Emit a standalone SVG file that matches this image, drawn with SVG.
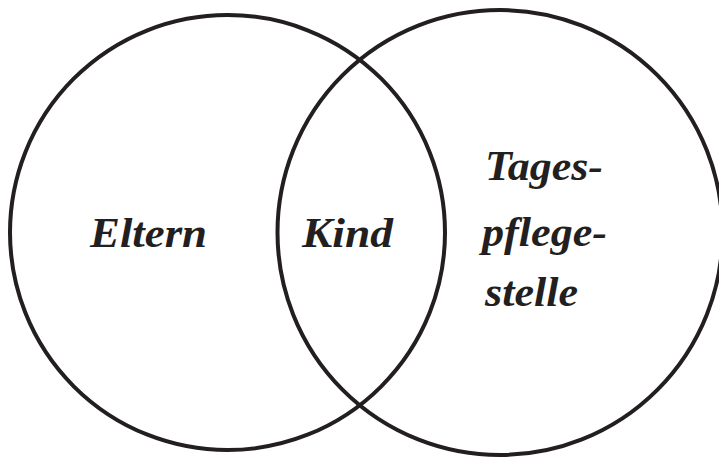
<svg xmlns="http://www.w3.org/2000/svg" width="719" height="458" viewBox="0 0 719 458">
<style>
.c{fill:none;stroke:#231f20;stroke-width:4}
.t{font-family:"Liberation Serif","Times New Roman",serif;font-weight:bold;font-style:italic;font-size:42px;fill:#231f20}
</style>
<rect width="719" height="458" fill="#fff"/>
<g id="eltern"><circle class="c" cx="227.5" cy="232.5" r="217.5"/><text class="t" x="90" y="247" textLength="117" lengthAdjust="spacingAndGlyphs">Eltern</text></g>
<g id="tagespflegestelle"><circle class="c" cx="500" cy="232.5" r="222.5"/><text class="t" x="485" y="180" textLength="118" lengthAdjust="spacingAndGlyphs">Tages-</text><text class="t" x="482" y="246" textLength="125" lengthAdjust="spacingAndGlyphs">pflege-</text><text class="t" x="485" y="306" textLength="93" lengthAdjust="spacingAndGlyphs">stelle</text></g>
<g id="kind"><text class="t" x="302" y="247" textLength="91" lengthAdjust="spacingAndGlyphs">Kind</text></g>
</svg>
